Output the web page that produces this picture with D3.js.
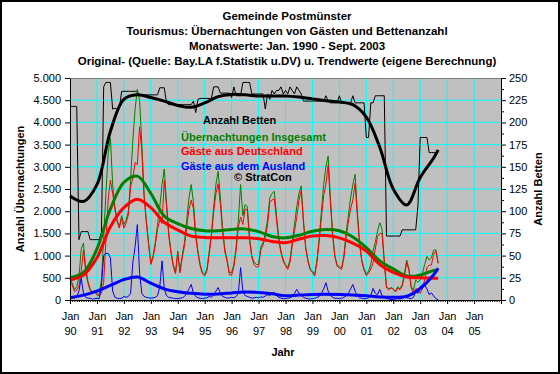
<!DOCTYPE html>
<html>
<head>
<meta charset="utf-8">
<script src="https://cdn.jsdelivr.net/npm/d3@7"></script>
<style>
  body { margin: 0; background: #fff; }
  svg { display: block; font-family: "Liberation Sans", Arial, sans-serif; }
</style>
</head>
<body>
<div id="chart"></div>
<script>
// Titel
const titleLines = [
  "Gemeinde Postmünster",
  "Tourismus: Übernachtungen von Gästen und Bettenanzahl",
  "Monatswerte: Jan. 1990 - Sept. 2003",
  "Original- (Quelle: Bay.LA f.Statistik u.DV) u. Trendwerte (eigene Berechnung)"
];
const yearLabels = ["90","91","92","93","94","95","96","97","98","99","00","01","02","03","04","05"];

// Monatswerte Jan 1990 - Sep 2003 (165 Monate)
const gesamt = [
  470, 380, 230, 300, 520, 1150, 1280, 700, 420, 250, 180, 220,
  150, 120, 450, 1400, 2400, 3300, 3650, 2600, 2100, 1800, 1650, 1900,
  1700, 1800, 2000, 2700, 3600, 4300, 4750, 4500, 3500, 2400, 1800, 1300,
  840, 1000, 1300, 1700, 2100, 2600, 2950, 2200, 1500, 1100, 800, 620,
  1100, 650, 1000, 1300, 1800, 2300, 2600, 2200, 1500, 1100, 800, 620,
  580, 700, 1100, 1500, 2100, 2600, 2900, 2300, 1600, 1140, 900, 620,
  620, 800, 1200, 1800, 2600, 1900, 2150, 2100, 1400, 1000, 850, 800,
  800, 1200, 1300, 1500, 1800, 2300, 2400, 2450, 1900, 1400, 1100, 900,
  800, 730, 900, 1300, 1700, 2100, 2400, 2570, 1800, 1200, 900, 700,
  650, 580, 900, 1400, 2000, 2600, 3000, 3240, 2300, 1500, 1000, 800,
  750, 730, 1000, 1500, 1900, 2300, 2600, 2830, 2000, 1300, 900, 700,
  580, 650, 800, 1100, 1300, 1550, 1740, 1600, 900, 300, 250, 280,
  250, 200, 300, 250, 350, 600, 900, 700, 300, 220, 450, 400,
  450, 600, 800, 980, 900, 950, 1120, 1130, 830
];
const deutschland = [
  410, 330, 190, 220, 320, 650, 1130, 640, 380, 210, 160, 190,
  110, 90, 150, 400, 1350, 2250, 2700, 2400, 2040, 1760, 1620, 1860,
  1620, 1740, 1920, 2550, 2750, 3100, 3050, 3900, 3350, 2320, 1740, 1250,
  800, 950, 1240, 1600, 1800, 1720, 2700, 2100, 1440, 1050, 760, 590,
  1070, 610, 950, 1220, 1650, 2050, 2250, 2050, 1420, 1050, 760, 590,
  540, 650, 1020, 1440, 1980, 2400, 2620, 2150, 1520, 1080, 860, 570,
  560, 750, 1120, 1650, 1870, 1700, 2050, 2020, 1340, 960, 800, 740,
  750, 1130, 1240, 1410, 1680, 2200, 2250, 2280, 1800, 1340, 1060, 870,
  770, 690, 850, 1220, 1550, 1860, 2250, 2470, 1740, 1160, 870, 680,
  620, 540, 840, 1320, 1850, 2350, 2610, 3040, 2200, 1440, 960, 760,
  720, 690, 940, 1410, 1750, 2050, 2250, 2630, 1900, 1250, 860, 670,
  550, 600, 700, 840, 1150, 1430, 1500, 1500, 840, 270, 230, 270,
  240, 180, 270, 230, 310, 540, 850, 660, 270, 160, 250, 250,
  150, 250, 460, 730, 780, 790, 1030, 1100, 825
];
const ausland = [
  60, 50, 40, 80, 200, 500, 150, 60, 40, 40, 20, 30,
  40, 30, 300, 1000, 1050, 1050, 950, 200, 60, 40, 30, 40,
  80, 60, 80, 150, 850, 1200, 1700, 600, 150, 80, 60, 50,
  40, 50, 60, 100, 300, 880, 250, 100, 60, 50, 40, 30,
  30, 40, 50, 80, 150, 250, 350, 150, 80, 50, 40, 30,
  40, 50, 80, 60, 120, 200, 280, 150, 80, 60, 40, 50,
  60, 50, 80, 150, 730, 200, 100, 80, 60, 40, 50, 60,
  50, 70, 60, 90, 120, 100, 150, 170, 100, 60, 40, 30,
  30, 40, 50, 80, 150, 240, 150, 100, 60, 40, 30, 20,
  30, 40, 60, 80, 150, 250, 390, 200, 100, 60, 40, 40,
  30, 40, 60, 90, 150, 250, 350, 200, 100, 50, 40, 30,
  30, 50, 100, 260, 150, 120, 240, 100, 60, 30, 20, 10,
  10, 20, 30, 20, 40, 60, 50, 40, 30, 60, 200, 150,
  300, 350, 340, 250, 120, 160, 90, 30, 5
];
const betten = [
  218, 218, 218, 218, 68, 77, 77, 77, 77, 68, 68, 68,
  68, 68, 76, 240, 245, 245, 245, 215, 216, 215, 216, 235,
  235, 235, 235, 235, 235, 235, 235, 230, 231, 231, 231, 231,
  231, 231, 231, 231, 239, 239, 239, 222, 220, 220, 220, 220,
  220, 220, 220, 220, 220, 220, 220, 224, 211, 226, 227, 227,
  227, 227, 227, 227, 240, 240, 240, 233, 233, 233, 233, 233,
  228, 240, 230, 230, 230, 245, 245, 245, 245, 232, 232, 232,
  232, 232, 232, 215, 232, 226, 236, 232, 236, 236, 240, 232,
  236, 232, 240, 236, 232, 240, 236, 232, 224, 224, 224, 224,
  224, 224, 224, 224, 224, 224, 230, 224, 222, 222, 222, 222,
  230, 222, 222, 222, 222, 222, 230, 222, 222, 222, 222, 222,
  183, 183, 222, 222, 230, 230, 230, 230, 230, 72, 72, 72,
  72, 72, 72, 72, 79, 79, 79, 79, 79, 79, 79, 106,
  183, 183, 183, 183, 166, 166, 166, 166, 166
];

// Trendwerte (Stützstellen, Monatsindex ab Jan 1990)
const trendMonths = [0, 6, 12, 18, 24, 30, 36, 42, 48, 54, 60, 66, 72, 78, 84, 90, 96, 102, 108, 114, 120, 126, 132, 138, 144, 150, 156, 162, 164];
const trendGesamt = [500, 620, 1150, 2050, 2650, 2790, 2400, 1890, 1720, 1610, 1560, 1560, 1590, 1600, 1540, 1430, 1400, 1460, 1550, 1590, 1560, 1420, 1180, 880, 700, 540, 563, 665, 676];
const trendDeutschland = [450, 560, 950, 1650, 2080, 2268, 2080, 1750, 1580, 1440, 1410, 1400, 1400, 1400, 1380, 1320, 1290, 1370, 1440, 1450, 1400, 1280, 1100, 800, 620, 520, 500, 488, 488];
const trendAusland = [53, 110, 200, 330, 460, 518, 380, 250, 185, 150, 130, 135, 160, 180, 170, 140, 95, 110, 125, 128, 125, 115, 95, 70, 60, 85, 260, 570, 714];
const trendBetten = [117, 111, 130, 190, 226, 231, 228, 224, 219, 217, 222, 229, 231.5, 231, 229.7, 229.7, 229.7, 228.5, 226.5, 224.5, 223, 220, 206, 172, 125, 107, 138, 160, 169];

const W = 560, H = 374;
const margin = { top: 78, right: 59, bottom: 74, left: 70 };
const width = W - margin.left - margin.right;
const height = H - margin.top - margin.bottom;

const de = d3.formatLocale({ decimal: ",", thousands: ".", grouping: [3], currency: ["", " €"] });
const fmt = de.format(",");

const svg = d3.select("#chart").append("svg")
  .attr("width", W)
  .attr("height", H);

svg.append("rect")
  .attr("x", 1).attr("y", 1)
  .attr("width", W - 2).attr("height", H - 2)
  .attr("fill", "#fff")
  .attr("stroke", "#000")
  .attr("stroke-width", 2);

// Titel
svg.selectAll(".title")
  .data(titleLines)
  .enter().append("text")
  .attr("class", "title")
  .attr("x", 287)
  .attr("y", (d, i) => 20 + i * 15)
  .attr("text-anchor", "middle")
  .attr("font-size", "11.5px")
  .attr("font-weight", "bold")
  .text(d => d);

const g = svg.append("g")
  .attr("transform", `translate(${margin.left},${margin.top})`);

// Skalen
const x = d3.scaleLinear().domain([0, 192]).range([0, width]);
const yL = d3.scaleLinear().domain([0, 5000]).range([height, 0]);
const yR = d3.scaleLinear().domain([0, 250]).range([height, 0]);

// Zeichenfläche
g.append("rect")
  .attr("width", width)
  .attr("height", height)
  .attr("fill", "#c0c0c0");

// Gitternetz
g.selectAll(".hgrid")
  .data(d3.range(500, 5000, 500))
  .enter().append("line")
  .attr("x1", 0).attr("x2", width)
  .attr("y1", d => yL(d)).attr("y2", d => yL(d))
  .attr("stroke", "#00ffff");

g.selectAll(".vgrid")
  .data(d3.range(12, 192, 12))
  .enter().append("line")
  .attr("x1", d => x(d)).attr("x2", d => x(d))
  .attr("y1", 0).attr("y2", height)
  .attr("stroke", "#00ffff");

g.append("line")
  .attr("x1", 0).attr("x2", width)
  .attr("y1", 0.5).attr("y2", 0.5)
  .attr("stroke", "#808080");

// Linien
const lineL = d3.line().x((d, i) => x(i)).y(d => yL(d));
const lineR = d3.line().x((d, i) => x(i)).y(d => yR(d));
const trendL = d3.line().x((d, i) => x(trendMonths[i])).y(d => yL(d)).curve(d3.curveCatmullRom.alpha(0.5));
const trendR = d3.line().x((d, i) => x(trendMonths[i])).y(d => yR(d)).curve(d3.curveCatmullRom.alpha(0.5));

const plot = g.append("g");
plot.append("path").datum(betten).attr("d", lineR)
  .attr("fill", "none").attr("stroke", "#000").attr("stroke-width", 1);
plot.append("path").datum(gesamt).attr("d", lineL)
  .attr("fill", "none").attr("stroke", "#008000").attr("stroke-width", 1);
plot.append("path").datum(deutschland).attr("d", lineL)
  .attr("fill", "none").attr("stroke", "#ff0000").attr("stroke-width", 1);
plot.append("path").datum(ausland).attr("d", lineL)
  .attr("fill", "none").attr("stroke", "#0000ff").attr("stroke-width", 1);

plot.append("path").datum(trendBetten).attr("d", trendR)
  .attr("fill", "none").attr("stroke", "#000").attr("stroke-width", 3);
plot.append("path").datum(trendGesamt).attr("d", trendL)
  .attr("fill", "none").attr("stroke", "#008000").attr("stroke-width", 3);
plot.append("path").datum(trendDeutschland).attr("d", trendL)
  .attr("fill", "none").attr("stroke", "#ff0000").attr("stroke-width", 3);
plot.append("path").datum(trendAusland).attr("d", trendL)
  .attr("fill", "none").attr("stroke", "#0000ff").attr("stroke-width", 3);

// Achsen
const axisStyle = sel => {
  sel.selectAll("path, line").attr("stroke", "#000");
  sel.selectAll("text").attr("font-size", "11px").attr("fill", "#000")
    .attr("font-family", "Liberation Sans, Arial, sans-serif");
};

g.append("g")
  .call(d3.axisLeft(yL).tickValues(d3.range(0, 5001, 500)).tickFormat(fmt).tickSize(5).tickSizeOuter(0).tickPadding(4))
  .call(axisStyle);

g.append("g")
  .attr("transform", `translate(${width},0)`)
  .call(d3.axisRight(yR).tickValues(d3.range(0, 251, 25)).tickSize(5).tickSizeOuter(0).tickPadding(3))
  .call(axisStyle);

g.append("g")
  .attr("transform", `translate(${width},0)`)
  .call(d3.axisRight(yR).tickValues(d3.range(12.5, 250, 25)).tickSize(3).tickFormat(""))
  .call(s => s.select(".domain").remove())
  .call(axisStyle);

g.append("g")
  .attr("transform", `translate(0,${height})`)
  .call(d3.axisBottom(x).tickValues(d3.range(0, 193, 1)).tickSize(2).tickFormat(""))
  .call(s => s.select(".domain").remove())
  .call(axisStyle);

const xAxis = g.append("g")
  .attr("transform", `translate(0,${height})`)
  .call(d3.axisBottom(x).tickValues(d3.range(0, 193, 12)).tickSize(4).tickSizeOuter(0).tickFormat(""))
  .call(axisStyle);

xAxis.selectAll(".tick")
  .filter((d, i) => i < yearLabels.length)
  .each(function (d, i) {
    const t = d3.select(this);
    t.append("text").attr("y", 20).attr("text-anchor", "middle")
      .attr("font-size", "11px").attr("fill", "#000").text("Jan");
    t.append("text").attr("y", 35).attr("text-anchor", "middle")
      .attr("font-size", "11px").attr("fill", "#000").text(yearLabels[i]);
  });

// Achsentitel
svg.append("text")
  .attr("transform", "translate(24,189) rotate(-90)")
  .attr("text-anchor", "middle")
  .attr("font-size", "11px").attr("font-weight", "bold")
  .text("Anzahl Übernachtungen");

svg.append("text")
  .attr("transform", "translate(542,189) rotate(-90)")
  .attr("text-anchor", "middle")
  .attr("font-size", "11px").attr("font-weight", "bold")
  .text("Anzahl Betten");

svg.append("text")
  .attr("x", 283).attr("y", 356)
  .attr("text-anchor", "middle")
  .attr("font-size", "11px").attr("font-weight", "bold")
  .text("Jahr");

// Legende im Diagramm
const legend = [
  { text: "Anzahl Betten", color: "#000", x: 203, y: 124 },
  { text: "Übernachtungen Insgesamt", color: "#008000", x: 181, y: 141 },
  { text: "Gäste aus Deutschland", color: "#ff0000", x: 181, y: 155 },
  { text: "Gäste aus dem Ausland", color: "#0000ff", x: 181, y: 170 },
  { text: "© StratCon", color: "#000", x: 234, y: 181 }
];
svg.selectAll(".legend")
  .data(legend)
  .enter().append("text")
  .attr("class", "legend")
  .attr("x", d => d.x).attr("y", d => d.y)
  .attr("font-size", "11px").attr("font-weight", "bold")
  .attr("fill", d => d.color)
  .text(d => d.text);
</script>
</body>
</html>
